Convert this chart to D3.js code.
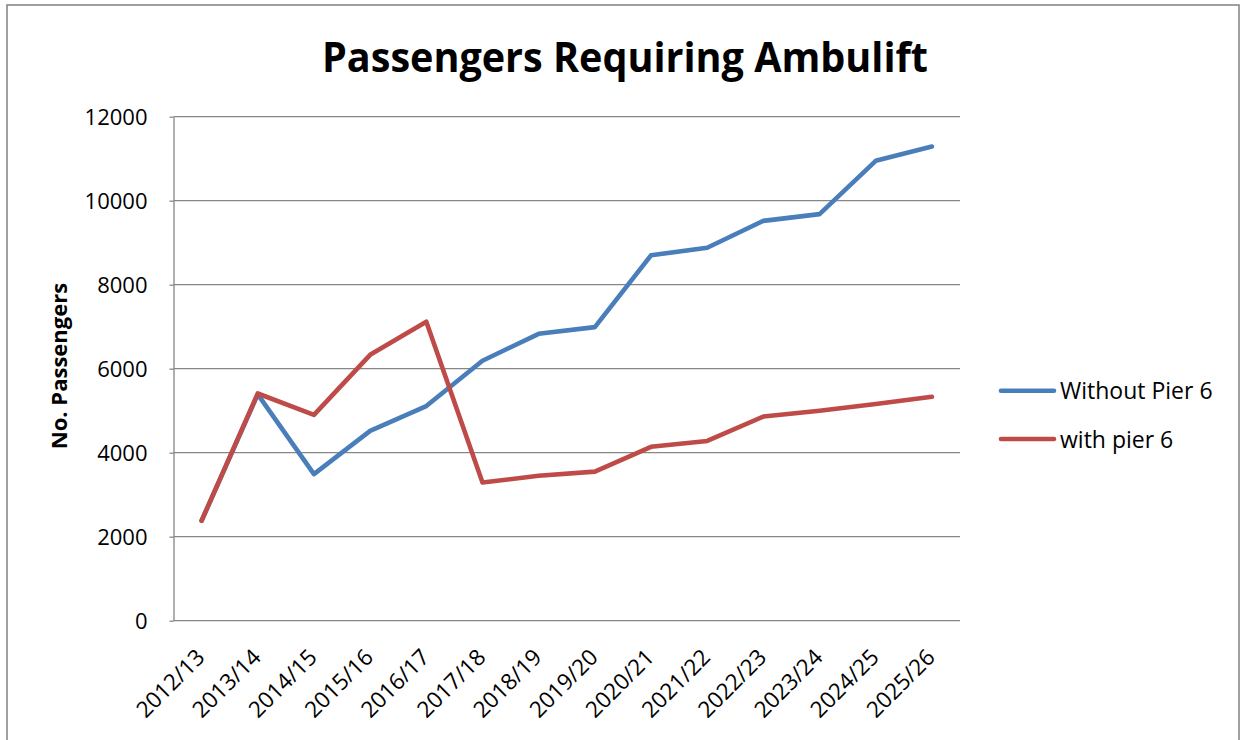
<!DOCTYPE html>
<html>
<head>
<meta charset="utf-8">
<script src="https://cdn.jsdelivr.net/npm/d3@7"></script>
<style>
  html, body { margin: 0; padding: 0; background: #ffffff; }
  svg { display: block; }
  text { font-family: "Open Sans", "Noto Sans", sans-serif; fill: #000; }
</style>
</head>
<body>
<svg id="chart" width="1244" height="740"></svg>
<script>
const categories = ["2012/13","2013/14","2014/15","2015/16","2016/17","2017/18","2018/19","2019/20","2020/21","2021/22","2022/23","2023/24","2024/25","2025/26"];
const withoutPier6 = [2380, 5390, 3490, 4520, 5110, 6190, 6830, 6990, 8700, 8880, 9520, 9680, 10950, 11290];
const withPier6 = [2380, 5410, 4900, 6330, 7120, 3290, 3450, 3550, 4140, 4280, 4860, 5000, 5160, 5330];
const yTicks = [0, 2000, 4000, 6000, 8000, 10000, 12000];
const seriesNames = ["Without Pier 6", "with pier 6"];
const titleText = "Passengers Requiring Ambulift";
const yAxisTitle = "No. Passengers";

const colors = ["#4A7EBB", "#BE4B48"];
const gridColor = "#868686";

const svg = d3.select("#chart");

// outer chart border
svg.append("rect")
  .attr("x", 7).attr("y", 5).attr("width", 1232).attr("height", 760)
  .attr("fill", "none").attr("stroke", "#888").attr("stroke-width", 1.6);

const plotL = 173.5, plotR = 960, plotT = 116.7, plotB = 620.7;

const x = d3.scalePoint().domain(categories).range([plotL, plotR]).padding(0.5);
const y = d3.scaleLinear().domain([0, 12000]).range([plotB, plotT]);

// gridlines
svg.append("g").selectAll("line").data(yTicks.filter(d => d > 0)).join("line")
  .attr("x1", plotL).attr("x2", plotR)
  .attr("y1", d => y(d)).attr("y2", d => y(d))
  .attr("stroke", gridColor).attr("stroke-width", 1.3);

// y axis
const yAxis = d3.axisLeft(y).tickValues(yTicks).tickFormat(d3.format("d"))
  .tickSizeInner(4).tickSizeOuter(0).tickPadding(22);
const gy = svg.append("g").attr("transform", `translate(${plotL},0)`).call(yAxis);
gy.select(".domain").attr("stroke", gridColor).attr("stroke-width", 1.3);
gy.selectAll(".tick line").attr("stroke", gridColor).attr("stroke-width", 1.3);
gy.selectAll(".tick text")
  .attr("font-size", 22).attr("font-family", "Open Sans").attr("fill", "#000")
  .attr("dy", "0.36em");

// x axis line
const xAxis = d3.axisBottom(x).tickSize(0).tickSizeOuter(0);
const gx = svg.append("g").attr("transform", `translate(0,${plotB})`).call(xAxis);
gx.select(".domain").attr("stroke", gridColor).attr("stroke-width", 1.3)
  .attr("d", `M${plotL},0H${plotR}`);
gx.selectAll(".tick text")
  .attr("font-size", 22.5).attr("font-family", "Open Sans").attr("fill", "#000")
  .attr("text-anchor", "end")
  .attr("y", 0).attr("dy", 0)
  .attr("transform", "translate(4,38) rotate(-45)");

// lines
const line = d3.line().x((d, i) => x(categories[i])).y(d => y(d));
[withoutPier6, withPier6].forEach((data, k) => {
  svg.append("path").datum(data)
    .attr("d", line)
    .attr("fill", "none")
    .attr("stroke", colors[k])
    .attr("stroke-width", 4.6)
    .attr("stroke-linejoin", "round")
    .attr("stroke-linecap", "round");
});

// title
const title = svg.append("text")
  .attr("x", 625).attr("y", 71.7)
  .attr("text-anchor", "middle")
  .attr("font-size", 41).attr("font-weight", "bold")
  .text(titleText);
{
  const w = title.node().getComputedTextLength();
  if (w > 606) title.attr("textLength", 606).attr("lengthAdjust", "spacingAndGlyphs");
}

// y axis title
const yt = svg.append("text")
  .attr("transform", "translate(67,366) rotate(-90)")
  .attr("text-anchor", "middle")
  .attr("font-size", 22).attr("font-weight", "bold")
  .text(yAxisTitle);
{
  const w = yt.node().getComputedTextLength();
  if (w > 168) yt.attr("textLength", 168).attr("lengthAdjust", "spacingAndGlyphs");
}

// legend
const legendY = [390.7, 439];
const lg = svg.append("g");
seriesNames.forEach((name, k) => {
  lg.append("line")
    .attr("x1", 1001).attr("x2", 1054)
    .attr("y1", legendY[k]).attr("y2", legendY[k])
    .attr("stroke", colors[k]).attr("stroke-width", 4.6)
    .attr("stroke-linecap", "round");
  lg.append("text")
    .attr("x", 1060).attr("y", legendY[k] + 8.5)
    .attr("font-size", 23)
    .text(name);
});
</script>
</body>
</html>
